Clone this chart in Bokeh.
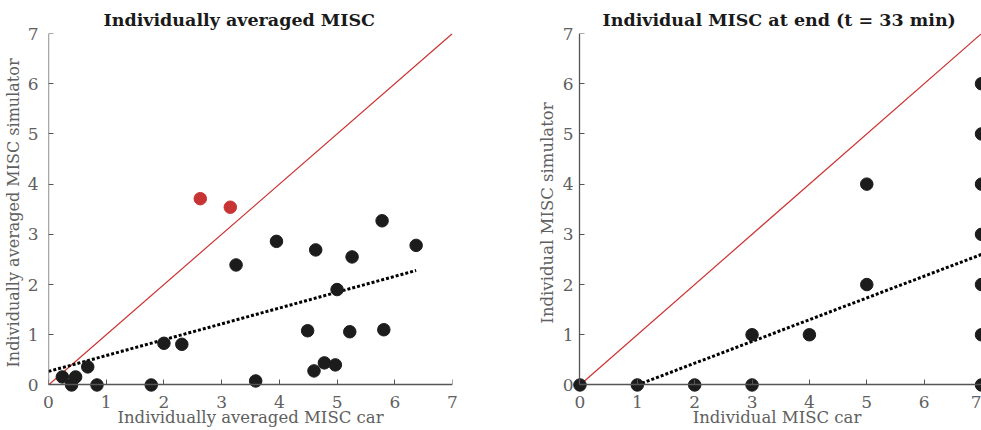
from bokeh.plotting import figure
from bokeh.layouts import row
from bokeh.models import Range1d, FixedTicker, LinearAxis, CustomLabelingPolicy
from bokeh.embed import file_html
from bokeh.resources import INLINE

# ---- data: left panel (individually averaged MISC) ----
avg_car = [0.24, 0.40, 0.47, 0.68, 0.84, 1.78, 2.00, 2.31, 3.25, 3.59, 3.95,
           4.49, 4.60, 4.63, 4.78, 4.97, 5.00, 5.22, 5.26, 5.78, 5.81, 6.37]
avg_sim = [0.16, 0.00, 0.16, 0.36, 0.00, 0.00, 0.83, 0.81, 2.39, 0.08, 2.86,
           1.08, 0.28, 2.69, 0.44, 0.40, 1.90, 1.06, 2.55, 3.27, 1.10, 2.78]
outlier_car = [2.63, 3.15]
outlier_sim = [3.71, 3.54]
fit_avg_x = [0.0, 6.37]
fit_avg_y = [0.27, 2.28]

# ---- data: right panel (individual MISC at end) ----
end_car = [0, 1, 2, 3, 3, 4, 5, 5, 7, 7, 7, 7, 7, 7, 7]
end_sim = [0, 0, 0, 0, 1, 1, 2, 4, 0, 1, 2, 3, 4, 5, 6]
fit_end_x = [1.0, 7.0]
fit_end_y = [0.0, 2.6]

identity = [0, 7]
ticks = [0, 1, 2, 3, 4, 5, 6, 7]

FONT = "DejaVu Serif"
TXT = "#606060"
AXC = "#555555"
RED = "#cc3333"
DOT = "#1c1c1c"
OUT = "#c83434"

NO_LABELS = "for (const i of indices) { indices.unset(i) }\nreturn indices"


def line_axis():
    # axis line + inward ticks, drawn at data coordinate 0 (labels suppressed)
    return LinearAxis(ticker=FixedTicker(ticks=ticks), bounds=(0, 7),
                      fixed_location=0,
                      axis_line_color=AXC, axis_line_width=1.3,
                      major_tick_line_color=AXC, major_tick_in=5, major_tick_out=0,
                      minor_tick_line_color=None,
                      major_label_text_font_size="0px", major_label_standoff=0,
                      major_label_policy=CustomLabelingPolicy(code=NO_LABELS))


def label_axis(label, standoff, label_standoff, label_size):
    # tick labels and axis title only
    return LinearAxis(ticker=FixedTicker(ticks=ticks), bounds=(0, 7),
                      axis_line_color=None, major_tick_line_color=None,
                      minor_tick_line_color=None,
                      major_label_text_font=FONT, major_label_text_font_size="17px",
                      major_label_text_color=TXT, major_label_standoff=standoff,
                      axis_label=label, axis_label_text_font=FONT,
                      axis_label_text_font_size=label_size,
                      axis_label_text_font_style="normal",
                      axis_label_text_color=TXT,
                      axis_label_standoff=label_standoff)


def make_fig(width, mbl, mbr, xr, title, xlabel, ylabel, title_offset,
             ylab_size, ylab_standoff, ytick_standoff):
    p = figure(width=width, height=430, output_backend="svg", toolbar_location=None,
               x_range=xr, y_range=Range1d(-0.15, 7),
               x_axis_type=None, y_axis_type=None,
               min_border_left=mbl, min_border_right=mbr,
               min_border_top=33, min_border_bottom=38)
    p.title.text = title
    p.title.text_font = FONT
    p.title.text_font_size = "17.5px"
    p.title.text_font_style = "bold"
    p.title.text_color = "#1a1a1a"
    p.title.align = "left"
    p.title.standoff = 7
    p.title.offset = title_offset
    p.outline_line_color = None
    p.xgrid.visible = False
    p.ygrid.visible = False
    p.add_layout(line_axis(), "below")
    p.add_layout(label_axis(xlabel, -3, -3, "16.5px"), "below")
    p.add_layout(line_axis(), "left")
    p.add_layout(label_axis(ylabel, ytick_standoff, ylab_standoff, ylab_size), "left")
    return p


p1 = make_fig(500, 48, 48, Range1d(0, 7), "Individually averaged MISC",
              "Individually averaged MISC car", "Individually averaged MISC simulator",
              55, "16px", 2, 4)
p1.line(identity, identity, line_color=RED, line_width=1.2)
p1.line(fit_avg_x, fit_avg_y, line_color="black", line_width=3, line_dash="3 2")
p1.scatter(avg_car, avg_sim, size=12.5, fill_color=DOT, line_color=DOT)
p1.scatter(outlier_car, outlier_sim, size=12.5, fill_color=OUT, line_color=OUT)

p2 = make_fig(481, 72, 0, Range1d(-0.13, 7), "Individual MISC at end (t = 33 min)",
              "Individual MISC car", "Individual MISC simulator", 30,
              "16.5px", 3, -7)
p2.line(identity, identity, line_color=RED, line_width=1.2)
p2.line(fit_end_x, fit_end_y, line_color="black", line_width=3, line_dash="3 2")
p2.scatter(end_car, end_sim, size=12.5, fill_color=DOT, line_color=DOT)

layout = row(p1, p2)
open("out.html", "w").write(file_html(layout, INLINE))
